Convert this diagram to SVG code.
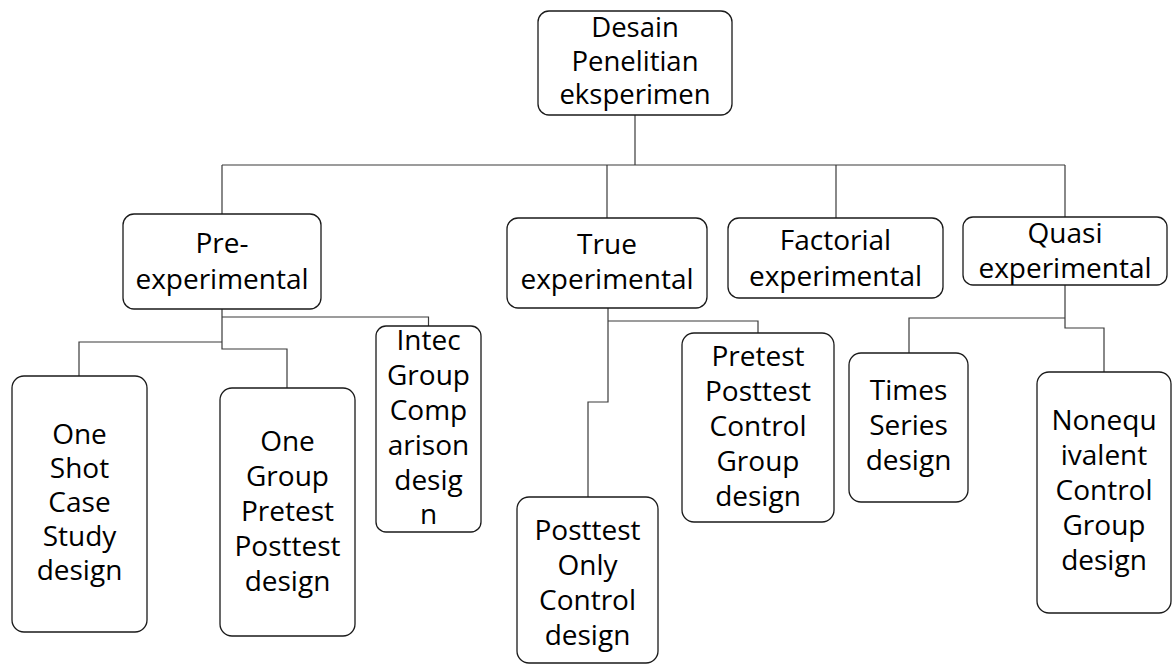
<svg xmlns="http://www.w3.org/2000/svg" width="1173" height="665" viewBox="0 0 1173 665">
<style>
.box{fill:#fff;stroke:#1a1a1a;stroke-width:1.3}
.c{fill:none;stroke:#3a3a3a;stroke-width:1.2}
text{font-family:"Open Sans","Noto Sans",sans-serif;fill:#000;text-anchor:middle}
.r{font-size:27.5px}
.l2{font-size:28px}
.lf{font-size:28px}
</style>
<rect width="1173" height="665" fill="#fff"/>
<g id="connectors">
<path class="c" d="M635,115 V165"/>
<path class="c" d="M222,165 H1065"/>
<path class="c" d="M222,165 V214"/>
<path class="c" d="M607,165 V218"/>
<path class="c" d="M836,165 V218"/>
<path class="c" d="M1065,165 V217"/>
<path class="c" d="M222,309 V349 H287 V388"/>
<path class="c" d="M222,342 H79 V376"/>
<path class="c" d="M222,317 H428.5 V326"/>
<path class="c" d="M608,308 V402 H588 V497"/>
<path class="c" d="M608,321 H758 V333"/>
<path class="c" d="M1065,285 V328 H1104 V372"/>
<path class="c" d="M1065,318 H909 V353"/>
</g>
<g id="root">
<rect class="box" x="538" y="11" width="194" height="104" rx="11"/>
<text class="r" x="635" y="37">Desain</text>
<text class="r" x="635" y="71">Penelitian</text>
<text class="r" x="635" y="104">eksperimen</text>
</g>
<g id="pre">
<rect class="box" x="123" y="214" width="198" height="95" rx="11"/>
<text class="l2" x="222" y="253">Pre-</text>
<text class="l2" x="222" y="289">experimental</text>
</g>
<g id="true">
<rect class="box" x="507" y="218" width="200" height="90" rx="11"/>
<text class="l2" x="607" y="254">True</text>
<text class="l2" x="607" y="289">experimental</text>
</g>
<g id="factorial">
<rect class="box" x="728" y="218" width="215" height="80" rx="11"/>
<text class="l2" x="835.5" y="250">Factorial</text>
<text class="l2" x="835.5" y="286">experimental</text>
</g>
<g id="quasi">
<rect class="box" x="963" y="217" width="204" height="68" rx="10"/>
<text class="l2" x="1065" y="243">Quasi</text>
<text class="l2" x="1065" y="278">experimental</text>
</g>
<g id="oneshot">
<rect class="box" x="12" y="376" width="135" height="256" rx="12"/>
<text class="lf" x="79.5" y="444">One</text>
<text class="lf" x="79.5" y="478">Shot</text>
<text class="lf" x="79.5" y="512">Case</text>
<text class="lf" x="79.5" y="546">Study</text>
<text class="lf" x="79.5" y="580">design</text>
</g>
<g id="onegroup">
<rect class="box" x="220" y="388" width="135" height="248" rx="12"/>
<text class="lf" x="287.5" y="451">One</text>
<text class="lf" x="287.5" y="486">Group</text>
<text class="lf" x="287.5" y="521">Pretest</text>
<text class="lf" x="287.5" y="556">Posttest</text>
<text class="lf" x="287.5" y="591">design</text>
</g>
<g id="intec">
<rect class="box" x="376" y="326" width="105" height="206" rx="10"/>
<text class="lf" x="428.5" y="350">Intec</text>
<text class="lf" x="428.5" y="385">Group</text>
<text class="lf" x="428.5" y="420">Comp</text>
<text class="lf" x="428.5" y="455">arison</text>
<text class="lf" x="428.5" y="490">desig</text>
<text class="lf" x="428.5" y="524">n</text>
</g>
<g id="pretestposttest">
<rect class="box" x="682" y="333" width="152" height="189" rx="12"/>
<text class="lf" x="758" y="366">Pretest</text>
<text class="lf" x="758" y="401">Posttest</text>
<text class="lf" x="758" y="436">Control</text>
<text class="lf" x="758" y="471">Group</text>
<text class="lf" x="758" y="506">design</text>
</g>
<g id="posttestonly">
<rect class="box" x="517" y="497" width="141" height="166" rx="12"/>
<text class="lf" x="587.5" y="540">Posttest</text>
<text class="lf" x="587.5" y="575">Only</text>
<text class="lf" x="587.5" y="610">Control</text>
<text class="lf" x="587.5" y="645">design</text>
</g>
<g id="times">
<rect class="box" x="849" y="353" width="119" height="149" rx="12"/>
<text class="lf" x="908.5" y="400">Times</text>
<text class="lf" x="908.5" y="435">Series</text>
<text class="lf" x="908.5" y="470">design</text>
</g>
<g id="nonequivalent">
<rect class="box" x="1037" y="372" width="134" height="241" rx="12"/>
<text class="lf" x="1104" y="430">Nonequ</text>
<text class="lf" x="1104" y="465">ivalent</text>
<text class="lf" x="1104" y="500">Control</text>
<text class="lf" x="1104" y="535">Group</text>
<text class="lf" x="1104" y="570">design</text>
</g>
</svg>
